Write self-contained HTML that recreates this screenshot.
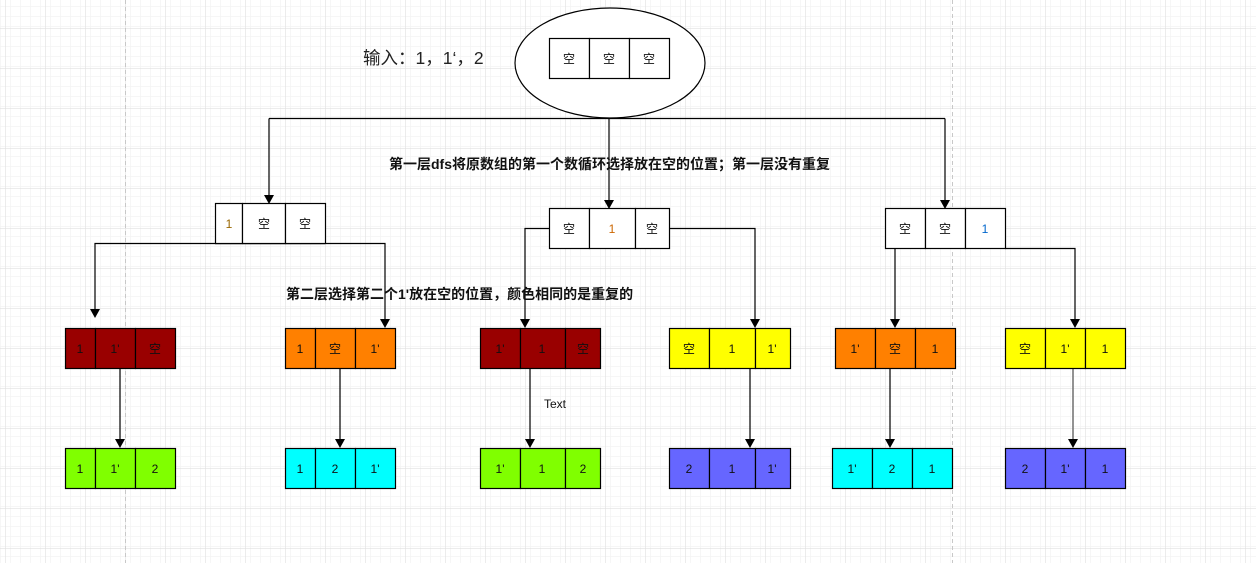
<!DOCTYPE html>
<html><head><meta charset="utf-8"><style>
html,body{margin:0;padding:0;background:#fff;}
svg{display:block;}
text{font-family:"Liberation Sans","Noto Sans CJK SC",sans-serif;}
</style></head><body>
<svg width="1256" height="563" xmlns="http://www.w3.org/2000/svg">
<defs>
<pattern id="g" width="10" height="10" patternUnits="userSpaceOnUse" x="5" y="28">
<path d="M0 0V10M0 0H10" fill="none" stroke="#f3f3f3" stroke-width="1.5"/>
</pattern>
<pattern id="G" width="40" height="40" patternUnits="userSpaceOnUse" x="5" y="28">
<rect width="40" height="40" fill="url(#g)"/>
<path d="M0 0V40M0 0H40" fill="none" stroke="#e0e0e0" stroke-width="1.2"/>
</pattern>
</defs>
<rect width="1256" height="563" fill="#fff"/>
<rect width="1256" height="563" fill="url(#G)"/>
<line x1="125.5" y1="0" x2="125.5" y2="563" stroke="#c8c8c8" stroke-dasharray="4,3"/>
<line x1="952.5" y1="0" x2="952.5" y2="563" stroke="#c8c8c8" stroke-dasharray="4,3"/>

<g fill="none" stroke="#000" stroke-width="1.2">
<ellipse cx="610" cy="63" rx="95" ry="55" fill="#fff"/>
<path d="M269 118.5H945"/>
<path d="M269 118.5V196" />
<path d="M609 118.5V201"/>
<path d="M945 118.5V201"/>
<path d="M325 243.5H95V311"/>
<path d="M215 243.5H385V321"/>
<path d="M549 228.5H525V321"/>
<path d="M669 228.5H755V321"/>
<path d="M895 248V321"/>
<path d="M1005 248.5H1075V321"/>
<path d="M120 368V441"/>
<path d="M340 368V441"/>
<path d="M530 368V441"/>
<path d="M750 368V441"/>
<path d="M890 368V441"/>
<path d="M1073 368V441" stroke="#777" stroke-width="1.6"/>
</g>
<g fill="#000">
<path d="M264 195L274 195L269 204Z"/>
<path d="M604 200L614 200L609 209Z"/>
<path d="M940 200L950 200L945 209Z"/>
<path d="M90 309L100 309L95 318Z"/>
<path d="M380 319L390 319L385 328Z"/>
<path d="M520 319L530 319L525 328Z"/>
<path d="M750 319L760 319L755 328Z"/>
<path d="M890 319L900 319L895 328Z"/>
<path d="M1070 319L1080 319L1075 328Z"/>
<path d="M115 439L125 439L120 448Z"/>
<path d="M335 439L345 439L340 448Z"/>
<path d="M525 439L535 439L530 448Z"/>
<path d="M745 439L755 439L750 448Z"/>
<path d="M885 439L895 439L890 448Z"/>
<path d="M1068 439L1078 439L1073 448Z"/>
</g>

<g stroke="#000" stroke-width="1.2" font-size="12" text-anchor="middle">
<rect x="549.5" y="38.5" width="40" height="40" fill="#fff"/><rect x="589.5" y="38.5" width="40" height="40" fill="#fff"/><rect x="629.5" y="38.5" width="40" height="40" fill="#fff"/>
<rect x="215.5" y="203.5" width="27" height="40" fill="#fff"/><rect x="242.5" y="203.5" width="43" height="40" fill="#fff"/><rect x="285.5" y="203.5" width="40" height="40" fill="#fff"/>
<rect x="549.5" y="208.5" width="40" height="40" fill="#fff"/><rect x="589.5" y="208.5" width="46" height="40" fill="#fff"/><rect x="635.5" y="208.5" width="34" height="40" fill="#fff"/>
<rect x="885.5" y="208.5" width="40" height="40" fill="#fff"/><rect x="925.5" y="208.5" width="40" height="40" fill="#fff"/><rect x="965.5" y="208.5" width="40" height="40" fill="#fff"/>
<rect x="65.5" y="328.5" width="30" height="40" fill="#990000"/><rect x="95.5" y="328.5" width="40" height="40" fill="#990000"/><rect x="135.5" y="328.5" width="40" height="40" fill="#990000"/>
<rect x="285.5" y="328.5" width="30" height="40" fill="#FF8000"/><rect x="315.5" y="328.5" width="40" height="40" fill="#FF8000"/><rect x="355.5" y="328.5" width="40" height="40" fill="#FF8000"/>
<rect x="480.5" y="328.5" width="40" height="40" fill="#990000"/><rect x="520.5" y="328.5" width="45" height="40" fill="#990000"/><rect x="565.5" y="328.5" width="35" height="40" fill="#990000"/>
<rect x="669.5" y="328.5" width="40" height="40" fill="#FFFF00"/><rect x="709.5" y="328.5" width="46" height="40" fill="#FFFF00"/><rect x="755.5" y="328.5" width="35" height="40" fill="#FFFF00"/>
<rect x="835.5" y="328.5" width="40" height="40" fill="#FF8000"/><rect x="875.5" y="328.5" width="40" height="40" fill="#FF8000"/><rect x="915.5" y="328.5" width="40" height="40" fill="#FF8000"/>
<rect x="1005.5" y="328.5" width="40" height="40" fill="#FFFF00"/><rect x="1045.5" y="328.5" width="40" height="40" fill="#FFFF00"/><rect x="1085.5" y="328.5" width="40" height="40" fill="#FFFF00"/>
<rect x="65.5" y="448.5" width="30" height="40" fill="#80FF00"/><rect x="95.5" y="448.5" width="40" height="40" fill="#80FF00"/><rect x="135.5" y="448.5" width="40" height="40" fill="#80FF00"/>
<rect x="285.5" y="448.5" width="30" height="40" fill="#00FFFF"/><rect x="315.5" y="448.5" width="40" height="40" fill="#00FFFF"/><rect x="355.5" y="448.5" width="40" height="40" fill="#00FFFF"/>
<rect x="480.5" y="448.5" width="40" height="40" fill="#80FF00"/><rect x="520.5" y="448.5" width="45" height="40" fill="#80FF00"/><rect x="565.5" y="448.5" width="35" height="40" fill="#80FF00"/>
<rect x="669.5" y="448.5" width="40" height="40" fill="#6666FF"/><rect x="709.5" y="448.5" width="46" height="40" fill="#6666FF"/><rect x="755.5" y="448.5" width="35" height="40" fill="#6666FF"/>
<rect x="832.5" y="448.5" width="40" height="40" fill="#00FFFF"/><rect x="872.5" y="448.5" width="40" height="40" fill="#00FFFF"/><rect x="912.5" y="448.5" width="40" height="40" fill="#00FFFF"/>
<rect x="1005.5" y="448.5" width="40" height="40" fill="#6666FF"/><rect x="1045.5" y="448.5" width="40" height="40" fill="#6666FF"/><rect x="1085.5" y="448.5" width="40" height="40" fill="#6666FF"/>
</g>

<g font-size="12" text-anchor="middle" fill="#111">
<text x="569" y="63">空</text><text x="609" y="63">空</text><text x="649" y="63">空</text>
<text x="229" y="228" fill="#996600">1</text><text x="264" y="228">空</text><text x="305" y="228">空</text>
<text x="569" y="233">空</text><text x="612" y="233" fill="#cc6600">1</text><text x="652" y="233">空</text>
<text x="905" y="233">空</text><text x="945" y="233">空</text><text x="985" y="233" fill="#0066cc">1</text>
<text x="80" y="353">1</text><text x="115" y="353">1'</text><text x="155" y="353">空</text>
<text x="300" y="353">1</text><text x="335" y="353">空</text><text x="375" y="353">1'</text>
<text x="500" y="353">1'</text><text x="542" y="353">1</text><text x="583" y="353">空</text>
<text x="689" y="353">空</text><text x="732" y="353">1</text><text x="772" y="353">1'</text>
<text x="855" y="353">1'</text><text x="895" y="353">空</text><text x="935" y="353">1</text>
<text x="1025" y="353">空</text><text x="1065" y="353">1'</text><text x="1105" y="353">1</text>
<text x="80" y="473">1</text><text x="115" y="473">1'</text><text x="155" y="473">2</text>
<text x="300" y="473">1</text><text x="335" y="473">2</text><text x="375" y="473">1'</text>
<text x="500" y="473">1'</text><text x="542" y="473">1</text><text x="583" y="473">2</text>
<text x="689" y="473">2</text><text x="732" y="473">1</text><text x="772" y="473">1'</text>
<text x="852" y="473">1'</text><text x="892" y="473">2</text><text x="932" y="473">1</text>
<text x="1025" y="473">2</text><text x="1065" y="473">1'</text><text x="1105" y="473">1</text>
</g>
<text x="544" y="408" font-size="12" fill="#111">Text</text>
<text x="363" y="64" font-size="17.5" fill="#222">输入：1，1‘，2</text>
<text x="389" y="169" font-size="14" font-weight="bold" fill="#111">第一层dfs将原数组的第一个数循环选择放在空的位置；第一层没有重复</text>
<text x="286" y="299" font-size="14" font-weight="bold" fill="#111">第二层选择第二个1'放在空的位置，颜色相同的是重复的</text>
</svg>
</body></html>
